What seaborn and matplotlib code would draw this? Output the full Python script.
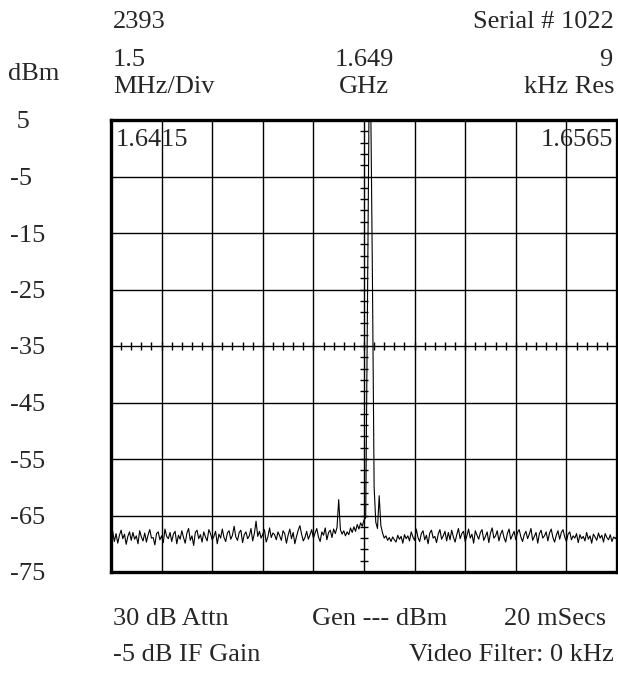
import numpy as np
import pandas as pd
import matplotlib
matplotlib.use('Agg')
import matplotlib.pyplot as plt
import seaborn as sns

# sweep settings
f_start = 1.6415   # GHz
f_stop = 1.6565
f_center = 1.649
div_mhz = 1.5
db_ticks = [5, -5, -15, -25, -35, -45, -55, -65, -75]
db_labels = [' 5', '-5', '-15', '-25', '-35', '-45', '-55', '-65', '-75']

# trace, 301 sweep points (dBm)
trace_dbm = [
    -68.9, -67.8, -69.6, -68.2, -69.9, -68.5, -67.6, -69.1, -68.3, -70.1,
    -68.7, -67.9, -69.4, -68.0, -69.2, -68.6, -70.0, -67.7, -68.8, -69.5,
    -68.1, -69.7, -68.4, -67.5, -69.0, -68.9, -70.2, -68.2, -67.9, -69.3,
    -68.6, -69.8, -67.4, -68.7, -69.1, -68.0, -69.6, -68.3, -67.8, -70.0,
    -68.5, -69.2, -67.7, -68.9, -69.9, -68.1, -67.3, -69.4, -68.6, -70.3,
    -68.0, -67.6, -69.1, -68.4, -69.7, -67.9, -68.8, -69.5, -67.5, -68.2,
    -69.3, -68.7, -67.8, -70.0, -68.3, -69.0, -67.4, -68.9, -69.6, -68.1,
    -67.7, -69.2, -68.5, -66.9, -68.8, -69.4, -68.0, -67.6, -69.8, -68.4,
    -67.9, -69.1, -68.6, -67.3, -69.5, -68.2, -66.0, -68.7, -67.8, -69.0,
    -68.3, -67.5, -69.7, -68.8, -67.2, -68.9, -68.1, -68.4, -69.3, -67.9,
    -68.6, -69.4, -67.7, -68.2, -69.9, -68.5, -67.4, -69.1, -68.0, -70.0,
    -68.7, -67.6, -66.8, -68.3, -69.5, -68.9, -67.8, -69.2, -68.4, -67.5,
    -69.0, -68.1, -67.3, -68.8, -69.6, -67.9, -68.5, -67.2, -69.3, -68.0,
    -67.6, -68.9, -67.4, -68.2, -67.1, -62.2, -67.5, -68.3, -67.7, -68.6,
    -67.9, -68.4, -67.2, -68.0, -67.0, -67.8, -66.6, -67.4, -66.3, -66.9,
    -65.8, -65.4, -30.0, 8.0, 8.0, -23.0, -60.0, -66.2, -67.3, -61.5,
    -66.8, -68.1, -69.0, -68.6, -69.4, -68.9, -69.6, -68.8, -69.3, -69.7,
    -68.5, -69.2, -68.7, -69.9, -68.4, -69.1, -68.6, -69.5, -67.9, -68.8,
    -69.4, -67.4, -68.9, -69.6, -68.2, -67.7, -69.3, -68.5, -70.0, -68.1,
    -67.6, -69.0, -68.7, -69.8, -68.3, -67.5, -69.2, -68.6, -67.8, -69.5,
    -68.0, -69.3, -67.6, -68.8, -69.7, -68.4, -67.3, -69.1, -68.2, -67.8,
    -69.6, -68.6, -67.4, -69.0, -68.3, -69.9, -67.7, -68.5, -69.2, -68.0,
    -67.5, -69.4, -68.7, -67.9, -69.8, -68.1, -67.2, -69.0, -68.6, -67.7,
    -69.5, -68.3, -67.6, -68.9, -69.7, -68.2, -67.4, -69.2, -68.5, -67.8,
    -69.3, -68.0, -67.5, -68.8, -69.6, -68.4, -67.8, -69.1, -68.3, -67.3,
    -69.4, -68.7, -68.0, -69.9, -68.2, -67.6, -69.0, -68.6, -67.9, -69.5,
    -68.1, -67.4, -68.9, -69.7, -68.5, -67.7, -69.2, -68.0, -67.5, -68.8,
    -69.6, -68.3, -67.9, -69.3, -68.6, -69.0, -68.2, -69.8, -68.4, -69.1,
    -68.7, -69.5, -68.0, -69.2, -68.6, -69.9, -68.3, -68.8, -69.4, -68.1,
    -69.0, -68.5, -69.7, -68.2, -68.9, -69.3, -68.4, -69.6, -68.8, -69.1,
    -68.6,
]
freq_ghz = np.linspace(f_start, f_stop, len(trace_dbm))
df = pd.DataFrame({'freq': freq_ghz, 'dbm': trace_dbm})

sns.set_style('white')
plt.rcParams['font.family'] = ['Liberation Serif', 'DejaVu Serif']
fs = 19

W, H = 618, 675
fig = plt.figure(figsize=(W / 100, H / 100), dpi=100)
# plot box in pixels: x 111..617, y 120..572
ax = fig.add_axes([111 / W, 1 - 572 / H, (617 - 111) / W, (572 - 120) / H])

sns.lineplot(data=df, x='freq', y='dbm', ax=ax, color='black', lw=0.8, zorder=5)

ax.set_xlim(f_start, f_stop)
ax.set_ylim(-75, 5)
ax.set_xticks(np.arange(f_start, f_stop + 1e-9, div_mhz / 1000))
ax.set_yticks(db_ticks)
ax.set_yticklabels(db_labels, fontsize=fs)
ax.set_xticklabels([])
ax.tick_params(axis='x', length=0)
ax.tick_params(axis='y', length=0, pad=101 * 0.72)
for lab in ax.get_yticklabels():
    lab.set_horizontalalignment('left')
ax.grid(True, color='black', lw=1.0)
ax.set_xlabel('')
ax.set_ylabel('')
for sp in ax.spines.values():
    sp.set_color('black')
    sp.set_linewidth(2.4)

# crosshair minor ticks (5 per division)
small_db = np.arange(-75, 5.01, 2)
small_f = np.arange(f_start, f_stop + 1e-9, div_mhz / 5000)
wf = 4 / 506 * (f_stop - f_start)
hd = 4 / 452 * 80
ax.hlines(small_db, f_center - wf, f_center + wf, color='black', lw=1.0)
ax.vlines(small_f, -35 - hd, -35 + hd, color='black', lw=1.0)

ax.text(0.01, 0.942, '1.6415', transform=ax.transAxes, fontsize=fs, va='baseline', ha='left')
ax.text(0.993, 0.942, '1.6565', transform=ax.transAxes, fontsize=fs, va='baseline', ha='right')


def ftext(x, y, s, ha='left'):
    fig.text(x / W, 1 - y / H, s, fontsize=fs, ha=ha, va='baseline')


ftext(113, 28, '2393')
ftext(614, 28, 'Serial # 1022', ha='right')
ftext(113, 66, '1.5')
ftext(364, 66, '1.649', ha='center')
ftext(612, 66, '9', ha='right')
ftext(8, 80, 'dBm')
ftext(113, 93, 'MHz/Div')
ftext(364, 93, 'GHz', ha='center')
ftext(614, 93, 'kHz Res', ha='right')
ftext(113, 625, '30 dB Attn')
ftext(380, 625, 'Gen --- dBm', ha='center')
ftext(606, 625, '20 mSecs', ha='right')
ftext(113, 661, '-5 dB IF Gain')
ftext(614, 661, 'Video Filter: 0 kHz', ha='right')

fig.savefig('out.png', dpi=100)
